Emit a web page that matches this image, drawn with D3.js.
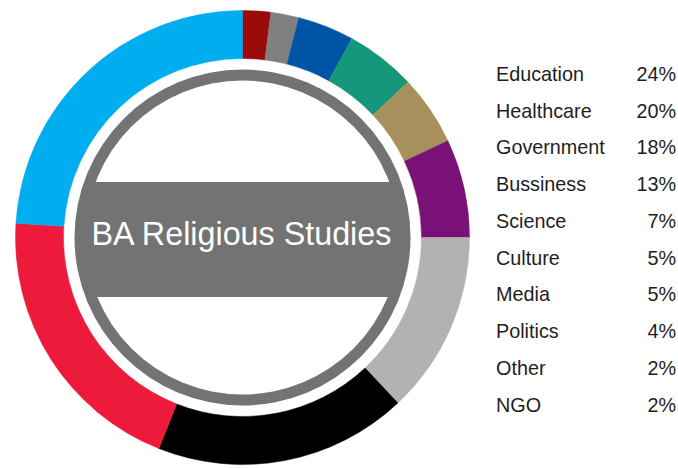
<!DOCTYPE html>
<html>
<head>
<meta charset="utf-8">
<script src="https://cdn.jsdelivr.net/npm/d3@7"></script>
<style>
  body { margin: 0; background: #fff; }
  svg { display: block; }
  .legend text { font-family: "Liberation Sans", Arial, sans-serif; font-size: 19.8px; fill: #1e1e1e; }
</style>
</head>
<body>
<div id="chart"></div>
<script>
var categories = ['Education', 'Healthcare', 'Government', 'Bussiness', 'Science', 'Culture', 'Media', 'Politics', 'Other', 'NGO'];
var values = [24, 20, 18, 13, 7, 5, 5, 4, 2, 2];
var colors = ['#00aeef', '#ed1a3b', '#000000', '#b2b2b2', '#7a1177', '#a8905d', '#14977a', '#0054a6', '#808080', '#9b0b0c'];
var title = 'BA Religious Studies';

var width = 678;
var height = 468;
var cx = 242.5;
var cy = 237.5;
var outerR = 227;
var innerR = 179;

var svg = d3.select('#chart').append('svg')
  .attr('width', width)
  .attr('height', height);

var data = categories.map(function (c, i) {
  return { name: c, value: values[i], color: colors[i] };
});

// slices run clockwise from 12 o'clock, smallest first
var pie = d3.pie()
  .sort(null)
  .value(function (d) { return d.value; });

var arc = d3.arc()
  .innerRadius(innerR)
  .outerRadius(outerR);

var g = svg.append('g')
  .attr('transform', 'translate(' + cx + ',' + cy + ')');

g.selectAll('.slice')
  .data(pie(data.slice().reverse()))
  .enter()
  .append('path')
  .attr('class', 'slice')
  .attr('d', arc)
  .attr('fill', function (d) { return d.data.color; })
  .attr('stroke', function (d) { return d.data.color; })
  .attr('stroke-width', 0.5);

// centre badge
var ringGray = '#737373';
svg.append('clipPath')
  .attr('id', 'inner')
  .append('circle')
  .attr('cx', cx)
  .attr('cy', cy)
  .attr('r', 160);

g.append('circle')
  .attr('r', 168)
  .attr('fill', ringGray);

g.append('circle')
  .attr('r', 157)
  .attr('fill', '#fff');

svg.append('rect')
  .attr('x', cx - 170)
  .attr('y', 182)
  .attr('width', 340)
  .attr('height', 115)
  .attr('fill', ringGray)
  .attr('clip-path', 'url(#inner)');

svg.append('text')
  .attr('x', 241.5)
  .attr('y', 245)
  .attr('text-anchor', 'middle')
  .style('font-family', '"Liberation Sans", Arial, sans-serif')
  .style('font-size', '32.3px')
  .attr('fill', '#fff')
  .text(title);

// legend table
var y = d3.scalePoint()
  .domain(categories)
  .range([81, 411.5]);

var legend = svg.append('g').attr('class', 'legend');

legend.selectAll('.lab')
  .data(data)
  .enter()
  .append('text')
  .attr('class', 'lab')
  .attr('x', 496)
  .attr('y', function (d) { return y(d.name); })
  .text(function (d) { return d.name; });

legend.selectAll('.val')
  .data(data)
  .enter()
  .append('text')
  .attr('class', 'val')
  .attr('x', 676)
  .attr('y', function (d) { return y(d.name); })
  .attr('text-anchor', 'end')
  .text(function (d) { return d.value + '%'; });
</script>
</body>
</html>
